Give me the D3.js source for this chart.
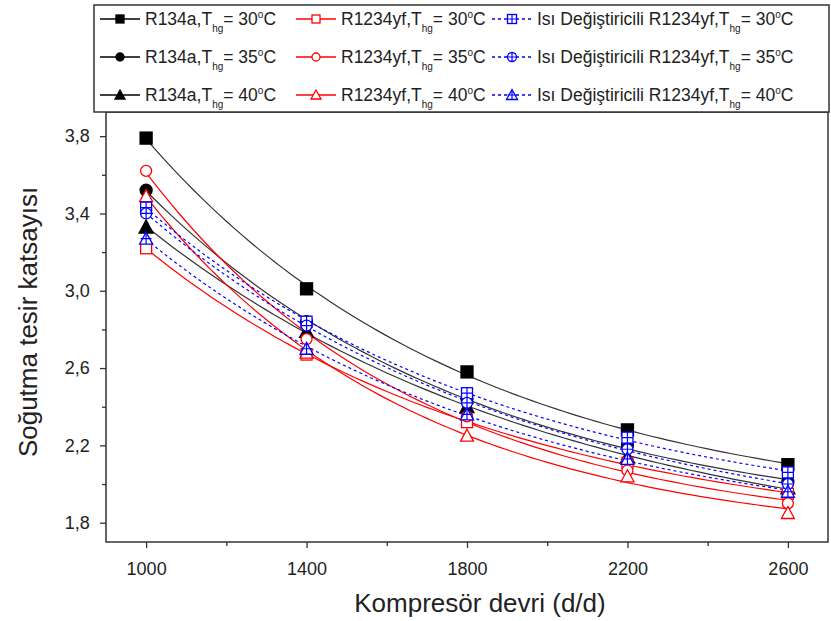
<!DOCTYPE html>
<html>
<head>
<meta charset="utf-8">
<script src="https://cdn.jsdelivr.net/npm/d3@7"></script>
<style>
  body{margin:0;background:#fff;}
  svg text{font-family:"Liberation Sans",Arial,sans-serif;fill:#222;}
</style>
</head>
<body>
<svg id="chart" width="831" height="621"></svg>
<script>
// compressor speed (rpm)
var speeds=[1000,1400,1800,2200,2600];

// cooling COP values
var r134a_30=[3.79,3.01,2.58,2.28,2.10];
var r134a_35=[3.52,2.84,2.44,2.20,2.01];
var r134a_40=[3.33,2.79,2.40,2.14,1.98];
var yf_30=[3.22,2.67,2.32,2.11,1.95];
var yf_35=[3.62,2.75,2.35,2.07,1.90];
var yf_40=[3.49,2.68,2.25,2.04,1.85];
var ihx_30=[3.43,2.84,2.47,2.24,2.06];
var ihx_35=[3.40,2.82,2.42,2.18,2.00];
var ihx_40=[3.27,2.70,2.36,2.13,1.96];

var xTicks=[1000,1400,1800,2200,2600];
var yTicks=[1.8,2.2,2.6,3.0,3.4,3.8];

var series=[
  {ref:"R134a",t:30,vals:r134a_30,color:"#000",shape:"square",fill:true,dash:null,col:0,row:0},
  {ref:"R134a",t:35,vals:r134a_35,color:"#000",shape:"circle",fill:true,dash:null,col:0,row:1},
  {ref:"R134a",t:40,vals:r134a_40,color:"#000",shape:"triangle",fill:true,dash:null,col:0,row:2},
  {ref:"R1234yf",t:30,vals:yf_30,color:"#f00",shape:"square",fill:false,dash:null,col:1,row:0},
  {ref:"R1234yf",t:35,vals:yf_35,color:"#f00",shape:"circle",fill:false,dash:null,col:1,row:1},
  {ref:"R1234yf",t:40,vals:yf_40,color:"#f00",shape:"triangle",fill:false,dash:null,col:1,row:2},
  {ref:"Isı Değiştiricili R1234yf",t:30,vals:ihx_30,color:"#00f",shape:"square",fill:false,cross:true,dash:"3,3",col:2,row:0},
  {ref:"Isı Değiştiricili R1234yf",t:35,vals:ihx_35,color:"#00f",shape:"circle",fill:false,cross:true,dash:"3,3",col:2,row:1},
  {ref:"Isı Değiştiricili R1234yf",t:40,vals:ihx_40,color:"#00f",shape:"triangle",fill:false,cross:true,dash:"3,3",col:2,row:2}
];

var svg=d3.select("#chart");
var L=106,R=828,T=112,B=542;
var x=d3.scaleLinear().domain([900,2700]).range([L,R]);
var y=d3.scaleLinear().domain([1.7,3.925]).range([B,T]);

// exponential decay fit y = a + b*exp(-(x-x0)/t), like Origin's ExpDec1
function expFit(xs,ys){
  var best=null;
  for(var t=150;t<40000;t*=1.01){
    var e=xs.map(function(v){return Math.exp(-(v-xs[0])/t);});
    var me=d3.mean(e),my=d3.mean(ys),sxy=0,sxx=0;
    e.forEach(function(v,i){sxy+=(v-me)*(ys[i]-my);sxx+=(v-me)*(v-me);});
    var b=sxy/sxx,a=my-b*me,sse=0;
    e.forEach(function(v,i){var r=ys[i]-(a+b*v);sse+=r*r;});
    if(!best||sse<best.sse) best={a:a,b:b,t:t,sse:sse};
  }
  return function(v){return best.a+best.b*Math.exp(-(v-xs[0])/best.t);};
}

function symbol(g,s,cx,cy,sz){
  var c=g.append("g").attr("transform","translate("+cx+","+cy+")");
  var fill=s.fill?s.color:"#fff";
  var h=sz/2;
  if(s.shape=="square"){
    c.append("rect").attr("x",-h).attr("y",-h).attr("width",sz).attr("height",sz)
      .attr("fill",fill).attr("stroke",s.color).attr("stroke-width",1.3);
  }else if(s.shape=="circle"){
    c.append("circle").attr("r",h).attr("fill",fill).attr("stroke",s.color).attr("stroke-width",1.3);
  }else{
    c.append("path").attr("d","M0,"+(-h-1)+"L"+(h+1)+","+(h)+"L"+(-h-1)+","+(h)+"Z")
      .attr("fill",fill).attr("stroke",s.color).attr("stroke-width",1.3);
  }
  if(s.cross){
    c.append("path").attr("d","M"+(-h)+",0H"+h+"M0,"+(-h)+"V"+h)
      .attr("stroke",s.color).attr("stroke-width",1.2);
  }
}

// axes
var xAxis=d3.axisBottom(x).tickValues(xTicks).tickSize(6).tickFormat(d3.format("d"));
var xMinor=d3.axisBottom(x).tickValues([1200,1600,2000,2400]).tickSize(4).tickFormat("");
var yAxis=d3.axisLeft(y).tickValues(yTicks).tickSize(6).tickFormat(function(d){return d3.format(".1f")(d).replace(".",",");});
var yMinor=d3.axisLeft(y).tickValues([2.0,2.4,2.8,3.2,3.6]).tickSize(4).tickFormat("");

function styleAxis(g){
  g.select(".domain").remove();
  g.selectAll(".tick line").attr("stroke","#333").attr("stroke-width",1.3);
  g.selectAll(".tick text").attr("font-size",18).attr("fill","#333")
    .attr("font-family","'Liberation Sans',Arial,sans-serif");
}
svg.append("g").attr("transform","translate(0,"+B+")").call(xAxis).call(styleAxis)
  .selectAll(".tick text").attr("dy","1.35em");
svg.append("g").attr("transform","translate(0,"+B+")").call(xMinor).call(styleAxis);
svg.append("g").attr("transform","translate("+L+",0)").call(yAxis).call(styleAxis)
  .selectAll(".tick text").attr("dx","-0.4em");
svg.append("g").attr("transform","translate("+L+",0)").call(yMinor).call(styleAxis);

// fitted curves
var plot=svg.append("g");
var line=d3.line().x(function(d){return x(d[0]);}).y(function(d){return y(d[1]);});
series.forEach(function(s){
  var f=expFit(speeds,s.vals);
  var pts=d3.range(speeds[0],speeds[speeds.length-1]+1,20).map(function(v){return [v,f(v)];});
  plot.append("path").attr("d",line(pts)).attr("fill","none")
    .attr("stroke",s.color=="#000"?"#333":s.color).attr("stroke-width",1.2)
    .attr("stroke-dasharray",s.dash);
});
series.forEach(function(s){
  s.vals.forEach(function(v,i){symbol(plot,s,x(speeds[i]),y(v),s.fill?12:11);});
});

// frame
svg.append("rect").attr("x",L).attr("y",T).attr("width",R-L).attr("height",B-T)
  .attr("fill","none").attr("stroke","#333").attr("stroke-width",1.5);

// legend
var lg=svg.append("g");
lg.append("rect").attr("x",94).attr("y",5).attr("width",735).attr("height",T-5)
  .attr("fill","#fff").attr("stroke","#333").attr("stroke-width",1.5);
var colX=[100,296,492],rowY=[19,57,95];
series.forEach(function(s){
  var x0=colX[s.col],yy=rowY[s.row];
  lg.append("line").attr("x1",x0).attr("x2",x0+40).attr("y1",yy).attr("y2",yy)
    .attr("stroke",s.color).attr("stroke-width",1.3).attr("stroke-dasharray",s.dash);
  symbol(lg,s,x0+20,yy,s.cross?9:8);
  var t=lg.append("text").attr("x",x0+45).attr("y",yy+6).attr("font-size",17.5);
  t.append("tspan").text(s.ref+",T");
  t.append("tspan").attr("font-size",10).attr("dy",7).text("hg");
  t.append("tspan").attr("dy",-7).text("= "+s.t);
  t.append("tspan").attr("font-size",10).attr("dy",-7).text("o");
  t.append("tspan").attr("dy",7).text("C");
});

// axis titles
svg.append("text").attr("x",480).attr("y",612).attr("text-anchor","middle")
  .attr("font-size",26).text("Kompresör devri (d/d)");
svg.append("text").attr("transform","translate(37,322) rotate(-90)")
  .attr("text-anchor","middle").attr("font-size",26).text("Soğutma tesir katsayısı");
</script>
</body>
</html>
